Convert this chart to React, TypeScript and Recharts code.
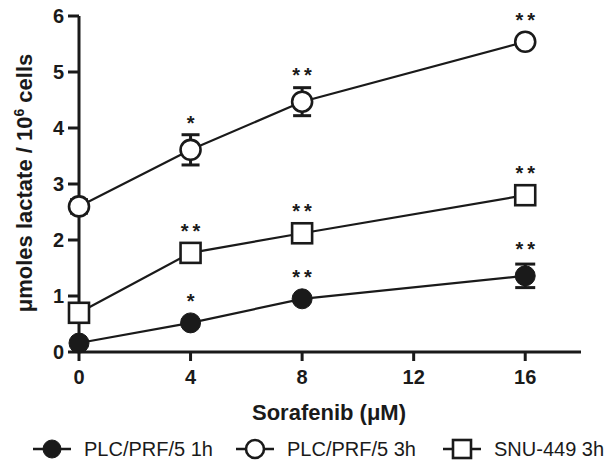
import React from "react";
import { LineChart, Line, XAxis, YAxis, ErrorBar, LabelList, Label } from "recharts";

// Sorafenib dose (µM) and lactate production per series
const doses = [0, 4, 8, 16];
const plc1h = [0.16, 0.52, 0.95, 1.36];
const plc1hErr = [0, 0, 0, 0.21];
const plc3h = [2.6, 3.61, 4.47, 5.54];
const plc3hErr = [0.12, 0.27, 0.25, 0];
const snu3h = [0.7, 1.77, 2.12, 2.8];
const snu3hErr = [0, 0, 0, 0];

// significance marks above each point
const plc1hStars = ["", "*", "**", "**"];
const plc3hStars = ["", "*", "**", "**"];
const snu3hStars = ["", "**", "**", "**"];

const xTicks = [0, 4, 8, 12, 16];
const yTicks = [0, 1, 2, 3, 4, 5, 6];

const seriesNames = ["PLC/PRF/5 1h", "PLC/PRF/5 3h", "SNU-449 3h"];

const FONT = "'Liberation Sans', Arial, Helvetica, sans-serif";
const INK = "#1a1a1a";

const data = doses.map((d, i) => ({
  dose: d,
  plc1h: plc1h[i],
  plc1hErr: plc1hErr[i],
  plc1hStars: plc1hStars[i],
  plc3h: plc3h[i],
  plc3hErr: plc3hErr[i],
  plc3hStars: plc3hStars[i],
  snu3h: snu3h[i],
  snu3hErr: snu3hErr[i],
  snu3hStars: snu3hStars[i],
}));

type Shape = "filled" | "circle" | "square";

const Marker = ({ cx, cy, shape, r = 10 }: { cx: number; cy: number; shape: Shape; r?: number }) => {
  if (shape === "square") {
    return (
      <rect x={cx - r} y={cy - r} width={r * 2} height={r * 2} fill="#fff" stroke={INK} strokeWidth={2.6} />
    );
  }
  return (
    <circle
      cx={cx}
      cy={cy}
      r={r}
      fill={shape === "filled" ? INK : "#fff"}
      stroke={INK}
      strokeWidth={shape === "filled" ? 1 : 2.6}
    />
  );
};

const dotFor = (shape: Shape) => (p: any) => (
  <Marker key={`${shape}-${p.index}`} cx={p.cx} cy={p.cy} shape={shape} />
);

const starLabel = (errs: number[]) => (p: any) => {
  if (!p.value) return null;
  const lift = errs[p.index] > 0.2 ? 20 : 15;
  return (
    <text
      x={p.x + 2}
      y={p.y - lift}
      textAnchor="middle"
      fontFamily={FONT}
      fontSize={20}
      fontWeight="bold"
      letterSpacing={4}
      fill={INK}
    >
      {p.value}
    </text>
  );
};

const tickStyle = { fontFamily: FONT, fontSize: 20, fontWeight: "bold", fill: INK };

const LegendIcon = ({ shape }: { shape: Shape }) => (
  <svg width={40} height={24} style={{ display: "block" }}>
    <line x1={1} y1={12} x2={39} y2={12} stroke={INK} strokeWidth={2.6} />
    <Marker cx={20} cy={12} shape={shape} r={9} />
  </svg>
);

const legendItems: { name: string; shape: Shape; left: number }[] = [
  { name: seriesNames[0], shape: "filled", left: 32 },
  { name: seriesNames[1], shape: "circle", left: 235 },
  { name: seriesNames[2], shape: "square", left: 442 },
];

export default function App() {
  return (
    <div style={{ position: "absolute", left: 0, top: 0, width: 607, height: 465, background: "#fff" }}>
      <LineChart width={607} height={465} data={data} margin={{ top: 16, right: 26, left: 0, bottom: 0 }}>
        <XAxis
          dataKey="dose"
          type="number"
          domain={[0, 18]}
          ticks={xTicks}
          height={113}
          tickSize={9}
          tickMargin={9}
          tick={tickStyle}
          axisLine={{ stroke: INK, strokeWidth: 3 }}
          tickLine={{ stroke: INK, strokeWidth: 3 }}
        >
          <Label
            content={() => (
              <text x={329} y={420} textAnchor="middle" fontFamily={FONT} fontSize={22} fontWeight="bold" fill={INK}>
                Sorafenib (μM)
              </text>
            )}
          />
        </XAxis>
        <YAxis
          type="number"
          domain={[0, 6]}
          ticks={yTicks}
          width={79}
          tickSize={11}
          tickMargin={4}
          tick={tickStyle}
          axisLine={{ stroke: INK, strokeWidth: 3 }}
          tickLine={{ stroke: INK, strokeWidth: 3 }}
        >
          <Label
            content={() => (
              <text
                transform="translate(32,183) rotate(-90)"
                textAnchor="middle"
                fontFamily={FONT}
                fontSize={22}
                fontWeight="bold"
                fill={INK}
              >
                μmoles lactate / 10
                <tspan dy={-8} fontSize={14}>6</tspan>
                <tspan dy={8}> cells</tspan>
              </text>
            )}
          />
        </YAxis>
        <Line
          dataKey="plc1h"
          stroke={INK}
          strokeWidth={2.2}
          dot={dotFor("filled")}
          activeDot={false}
          isAnimationActive={false}
        >
          <ErrorBar dataKey="plc1hErr" direction="y" width={10} stroke={INK} strokeWidth={3} />
          <LabelList dataKey="plc1hStars" content={starLabel(plc1hErr)} />
        </Line>
        <Line
          dataKey="plc3h"
          stroke={INK}
          strokeWidth={2.2}
          dot={dotFor("circle")}
          activeDot={false}
          isAnimationActive={false}
        >
          <ErrorBar dataKey="plc3hErr" direction="y" width={9} stroke={INK} strokeWidth={3} />
          <LabelList dataKey="plc3hStars" content={starLabel(plc3hErr)} />
        </Line>
        <Line
          dataKey="snu3h"
          stroke={INK}
          strokeWidth={2.2}
          dot={dotFor("square")}
          activeDot={false}
          isAnimationActive={false}
        >
          <ErrorBar dataKey="snu3hErr" direction="y" width={9} stroke={INK} strokeWidth={3} />
          <LabelList dataKey="snu3hStars" content={starLabel(snu3hErr)} />
        </Line>
      </LineChart>
      {legendItems.map((it) => (
        <div
          key={it.name}
          style={{
            position: "absolute",
            left: it.left,
            top: 437,
            display: "flex",
            alignItems: "center",
            fontFamily: FONT,
            fontSize: 20,
            color: INK,
            whiteSpace: "nowrap",
          }}
        >
          <LegendIcon shape={it.shape} />
          <span style={{ marginLeft: 12 }}>{it.name}</span>
        </div>
      ))}
    </div>
  );
}
